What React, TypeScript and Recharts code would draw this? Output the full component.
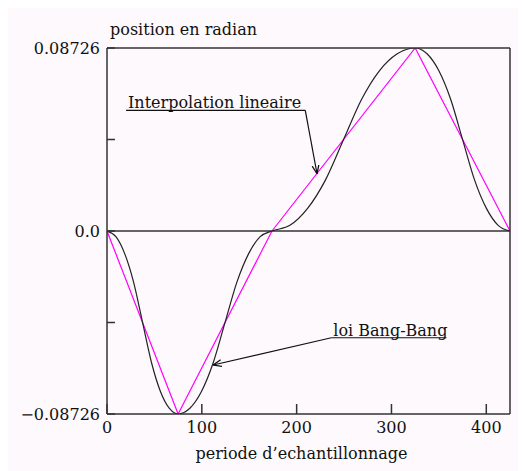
import React from 'react';
import {
  LineChart,
  Line,
  XAxis,
  YAxis,
  ReferenceLine,
} from 'recharts';

const A = 0.08726;

// bang-bang trajectory (black)
const bangX = [
  0, 9.4, 18.75, 28.1, 37.5, 46.9, 56.25, 65.6, 75,
  87.4, 99.75, 112.1, 124.5, 136.9, 149.25, 161.6, 174,
  192.9, 211.75, 230.6, 249.5, 268.4, 287.25, 306.1, 325,
  337.5, 350, 362.5, 375, 387.5, 400, 412.5, 425,
];
const bangY = [
  0, -0.0027, -0.0109, -0.0245, -0.0436, -0.0627, -0.0764, -0.0845, -0.08726,
  -0.0845, -0.0764, -0.0627, -0.0436, -0.0245, -0.0109, -0.0027, 0,
  0.0027, 0.0109, 0.0245, 0.0436, 0.0627, 0.0764, 0.0845, 0.08726,
  0.0845, 0.0764, 0.0627, 0.0436, 0.0245, 0.0109, 0.0027, 0,
];

// linear interpolation (magenta) via points
const linX = [0, 75, 174, 325, 425];
const linY = [0, -0.08726, 0, 0.08726, 0];

const xTicks = [0, 100, 200, 300, 400];
const yTicks = [-A, -A / 2, 0, A / 2, A];
const yTickLabels: Record<string, string> = {
  [String(-A)]: '\u22120.08726',
  '0': '0.0',
  [String(A)]: '0.08726',
};

// annotation leaders: [x1, y1, x2, y2] in data units
const interpUnderline = [20.1, 0.0575, 209.1, 0.0575];
const interpLeader = [209.1, 0.0575, 221.5, 0.0273];
const bangUnderline = [236.6, -0.0509, 358.0, -0.0509];
const bangLeader = [236.6, -0.0509, 112.0, -0.0639];

const bangData = bangX.map((x, i) => ({ x, y: bangY[i] }));
const linData = linX.map((x, i) => ({ x, y: linY[i] }));

const seg = (s: number[]) => [
  { x: s[0], y: s[1] },
  { x: s[2], y: s[3] },
];

const FONT = 'DejaVu Serif';
const frame = '#333';
const textStyle = { fontFamily: FONT, fontSize: 16, fill: '#111' };

export default function App() {
  return (
    <div style={{ width: 518, height: 463, background: '#fdf9fd', fontFamily: FONT }}>
      <LineChart width={518} height={463} margin={{ top: 20, right: 0, bottom: 0, left: 0 }}>
        <defs>
          <marker id="arrow" viewBox="0 0 10 10" refX="10" refY="5" markerWidth="7" markerHeight="7" orient="auto">
            <path d="M0,1 L10,5 L0,9" fill="none" stroke="#111" strokeWidth={1.5} />
          </marker>
        </defs>
        <XAxis
          xAxisId="bottom"
          type="number"
          dataKey="x"
          domain={[0, 425]}
          ticks={xTicks}
          allowDataOverflow
          height={57}
          tickSize={-10}
          tickMargin={18}
          stroke={frame}
          axisLine={{ stroke: frame, strokeWidth: 1.5 }}
          tickLine={{ stroke: frame, strokeWidth: 1.5 }}
          tick={textStyle}
          label={{
            value: 'periode d\u2019echantillonnage',
            position: 'insideBottom',
            offset: 12,
            dx: -7,
            style: { fontFamily: FONT, fontSize: 16, fill: '#111' },
          }}
        />
        <XAxis
          xAxisId="top"
          orientation="top"
          type="number"
          dataKey="x"
          domain={[0, 425]}
          ticks={xTicks}
          allowDataOverflow
          height={20}
          tickSize={-8}
          tick={false}
          axisLine={{ stroke: frame, strokeWidth: 1.5 }}
          tickLine={{ stroke: frame, strokeWidth: 1.5 }}
        />
        <YAxis
          yAxisId="left"
          type="number"
          domain={[-A, A]}
          ticks={yTicks}
          allowDataOverflow
          width={99}
          tickSize={-8}
          tickMargin={15}
          axisLine={{ stroke: frame, strokeWidth: 1.5 }}
          tickLine={{ stroke: frame, strokeWidth: 1.5 }}
          tick={textStyle}
          tickFormatter={(v: number) => yTickLabels[String(v)] ?? ''}
          interval={0}
        />
        <YAxis
          yAxisId="right"
          orientation="right"
          type="number"
          domain={[-A, A]}
          ticks={[-A / 2, A / 2]}
          allowDataOverflow
          width={16}
          tickSize={-10}
          tick={false}
          axisLine={{ stroke: frame, strokeWidth: 1.5 }}
          tickLine={{ stroke: frame, strokeWidth: 1.5 }}
        />
        <ReferenceLine xAxisId="bottom" yAxisId="left" y={0} stroke={frame} strokeWidth={1.5} />
        <Line
          xAxisId="bottom"
          yAxisId="left"
          data={linData}
          dataKey="y"
          type="linear"
          stroke="#ff00ff"
          strokeWidth={1.2}
          dot={false}
          isAnimationActive={false}
        />
        <Line
          xAxisId="bottom"
          yAxisId="left"
          data={bangData}
          dataKey="y"
          type="monotone"
          stroke="#222"
          strokeWidth={1.2}
          dot={false}
          isAnimationActive={false}
        />
        <ReferenceLine
          xAxisId="bottom"
          yAxisId="left"
          segment={seg(interpUnderline)}
          stroke="#111"
          strokeWidth={1.2}
          label={{ value: 'Interpolation lineaire', position: 'insideBottomLeft', offset: 2, style: textStyle }}
        />
        <ReferenceLine
          xAxisId="bottom"
          yAxisId="left"
          segment={seg(interpLeader)}
          stroke="#111"
          strokeWidth={1.2}
          markerEnd="url(#arrow)"
        />
        <ReferenceLine
          xAxisId="bottom"
          yAxisId="left"
          segment={seg(bangUnderline)}
          stroke="#111"
          strokeWidth={1.2}
          label={{ value: 'loi Bang-Bang', position: 'insideBottomLeft', offset: 2, style: textStyle }}
        />
        <ReferenceLine
          xAxisId="bottom"
          yAxisId="left"
          segment={seg(bangLeader)}
          stroke="#111"
          strokeWidth={1.2}
          markerEnd="url(#arrow)"
        />
        <text x={102} y={27} style={{ fontFamily: FONT, fontSize: 16, fill: '#111' }}>
          position en radian
        </text>
      </LineChart>
    </div>
  );
}
